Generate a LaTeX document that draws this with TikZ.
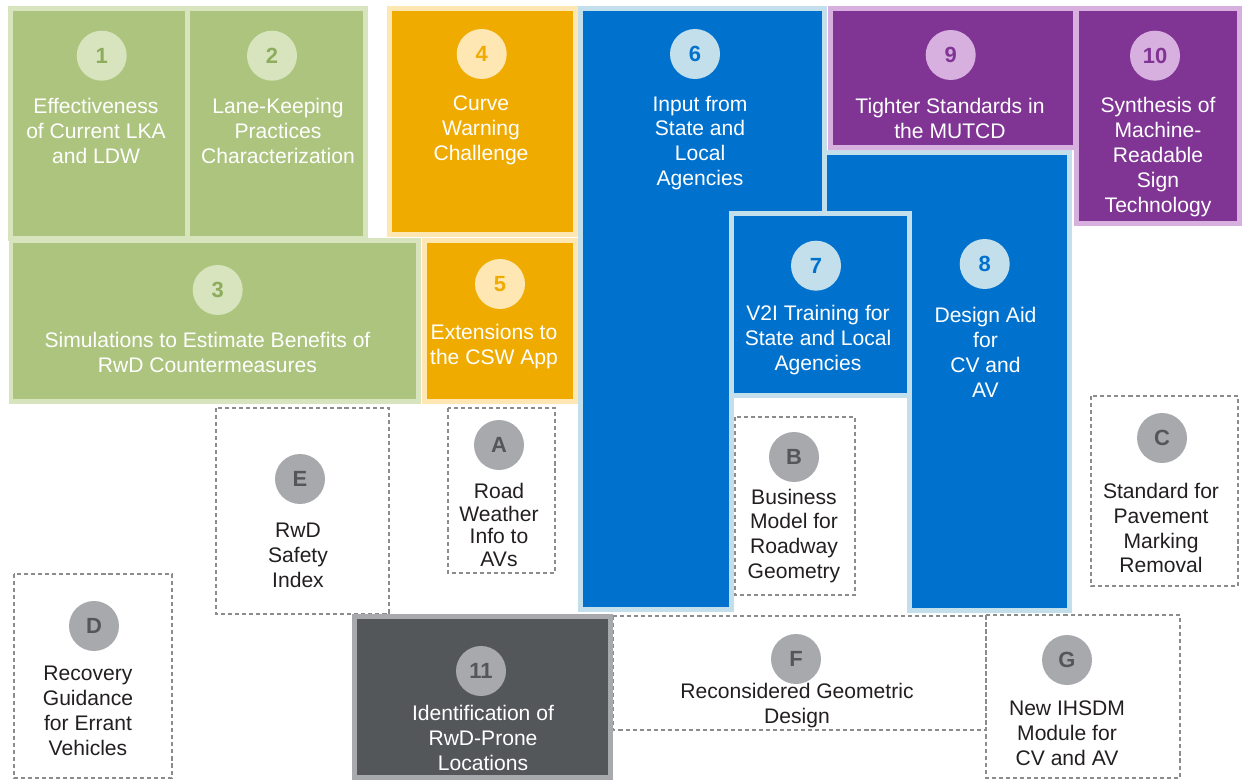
\documentclass[tikz,border=0pt]{standalone}
\usepackage{fontspec}
\setmainfont{Liberation Sans}

\definecolor{grdark}{HTML}{ADC47E}
\definecolor{grlight}{HTML}{D7E4BD}
\definecolor{grnum}{HTML}{8DAC5C}
\definecolor{ordark}{HTML}{F0AB00}
\definecolor{orlight}{HTML}{FFE7B3}
\definecolor{bldark}{HTML}{0072CE}
\definecolor{bllight}{HTML}{C4DFEC}
\definecolor{pudark}{HTML}{803594}
\definecolor{pulight}{HTML}{D8B0E0}
\definecolor{gydark}{HTML}{54575A}
\definecolor{gylight}{HTML}{A7A9AC}
\definecolor{dashgray}{HTML}{8C8C8C}
\definecolor{inkgray}{HTML}{231F20}

\begin{document}
\begin{tikzpicture}[x=0.02cm, y=-0.02cm,
    tile/.style={line width=0.1cm, line join=miter},
    green tile/.style={tile, fill=grdark, draw=grlight},
    orange tile/.style={tile, fill=ordark, draw=orlight},
    blue tile/.style={tile, fill=bldark, draw=bllight},
    purple tile/.style={tile, fill=pudark, draw=pulight},
    gray tile/.style={tile, fill=gydark, draw=gylight},
    idea/.style={draw=dashgray, line width=0.6pt, dash pattern=on 2.3pt off 1.7pt},
    badge/.style={circle, minimum size=1cm, inner sep=0pt,
                  font=\fontsize{12.5}{14}\selectfont\bfseries},
    label text/.style={align=center, inner sep=0pt, text=white,
                       font=\fontsize{12}{14.2}\selectfont},
    idea text/.style={label text, text=inkgray}]

  \useasboundingbox (0,0) rectangle (1246,780);

  % future research ideas (dashed)
  \draw[idea] (216,408) rectangle (389,614);
  \draw[idea] (448,408) rectangle (555,573);
  \draw[idea] (735,417) rectangle (855,595);
  \draw[idea] (1091,396) rectangle (1238,586);
  \draw[idea] (14,574) rectangle (172,778);
  \draw[idea] (613,616) rectangle (986,730);
  \draw[idea] (986,615) rectangle (1180,778);

  % green group
  \draw[green tile] (10.5,8.5) rectangle (187,239);
  \draw[green tile] (187,8.5) rectangle (365.5,239);
  \draw[green tile] (11,240.5) rectangle (418.5,401.5);

  % orange group
  \draw[orange tile] (389,8.5) rectangle (575.5,235);
  \draw[orange tile] (424.5,240.5) rectangle (575.5,401.5);

  % blue group
  \draw[blue tile] (580.5,8.5) -- (824.5,8.5) -- (824.5,213.5) -- (731.5,213.5)
    -- (731.5,609.5) -- (580.5,609.5) -- cycle;
  \draw[blue tile] (824.5,152.5) -- (1069.5,152.5) -- (1069.5,610.5) -- (909.5,610.5)
    -- (909.5,213.5) -- (824.5,213.5) -- cycle;
  \draw[blue tile] (731.5,213.5) rectangle (909.5,395.5);

  % purple group
  \draw[purple tile] (830.5,8.5) rectangle (1075.5,147.5);
  \draw[purple tile] (1076.5,8.5) rectangle (1239.5,223.5);

  % dark gray
  \draw[gray tile] (354.5,616.5) rectangle (610.5,777.5);

  % numbered badges and titles
  \node[badge, fill=grlight, text=grnum] (n1) at (101.7,55.7) {1};
  \node[label text] (t1) at (96,131) {Effectiveness\\of Current LKA\\and LDW};
  \node[badge, fill=grlight, text=grnum] (n2) at (272,55.7) {2};
  \node[label text] (t2) at (278,131) {Lane-Keeping\\Practices\\Characterization};
  \node[badge, fill=grlight, text=grnum] (n3) at (217.7,290) {3};
  \node[label text] (t3) at (207.5,352) {Simulations to Estimate Benefits of\\RwD Countermeasures};

  \node[badge, fill=orlight, text=ordark] (n4) at (481.7,54) {4};
  \node[label text] (t4) at (481,130) {Curve\\Warning\\Challenge};
  \node[badge, fill=orlight, text=ordark] (n5) at (500,284) {5};
  \node[label text] (t5) at (494,347) {Extensions to\\the CSW App};

  \node[badge, fill=bllight, text=bldark] (n6) at (695,54) {6};
  \node[label text] (t6) at (700,143) {Input from\\State and\\Local\\Agencies};
  \node[badge, fill=bllight, text=bldark] (n7) at (816,265.7) {7};
  \node[label text] (t7) at (818,340) {V2I Training for\\State and Local\\Agencies};
  \node[badge, fill=bllight, text=bldark] (n8) at (984.7,264) {8};
  \node[label text] (t8) at (985.5,352) {Design Aid\\for\\CV and\\AV};

  \node[badge, fill=pulight, text=pudark] (n9) at (950.7,55) {9};
  \node[label text] (t9) at (950,118) {Tighter Standards in\\the MUTCD};
  \node[badge, fill=pulight, text=pudark] (n10) at (1155,55.7) {10};
  \node[label text] (t10) at (1158,157) {Synthesis of\\Machine-\\Readable\\Sign\\Technology};

  \node[badge, fill=gylight, text=gydark] (n11) at (481,671) {11};
  \node[label text] (t11) at (483,738) {Identification of\\RwD-Prone\\Locations};

  % lettered badges and titles
  \node[badge, fill=gylight, text=gydark] (na) at (499,445) {A};
  \node[idea text, font=\fontsize{12}{13}\selectfont] (ta) at (499,525) {Road\\Weather\\Info to\\AVs};
  \node[badge, fill=gylight, text=gydark] (nb) at (794,457) {B};
  \node[idea text] (tb) at (794,536) {Business\\Model for\\Roadway\\Geometry};
  \node[badge, fill=gylight, text=gydark] (nc) at (1162,438) {C};
  \node[idea text] (tc) at (1161,528) {Standard for\\Pavement\\Marking\\Removal};
  \node[badge, fill=gylight, text=gydark] (nd) at (94,626) {D};
  \node[idea text] (td) at (88,711) {Recovery\\Guidance\\for Errant\\Vehicles};
  \node[badge, fill=gylight, text=gydark] (ne) at (300,479) {E};
  \node[idea text] (te) at (298,555) {RwD\\Safety\\Index};
  \node[badge, fill=gylight, text=gydark] (nf) at (796,659) {F};
  \node[idea text] (tf) at (797,706) {Reconsidered Geometric\\Design};
  \node[badge, fill=gylight, text=gydark] (ng) at (1067,660) {G};
  \node[idea text] (tg) at (1067,733) {New IHSDM\\Module for\\CV and AV};

\end{tikzpicture}
\end{document}
